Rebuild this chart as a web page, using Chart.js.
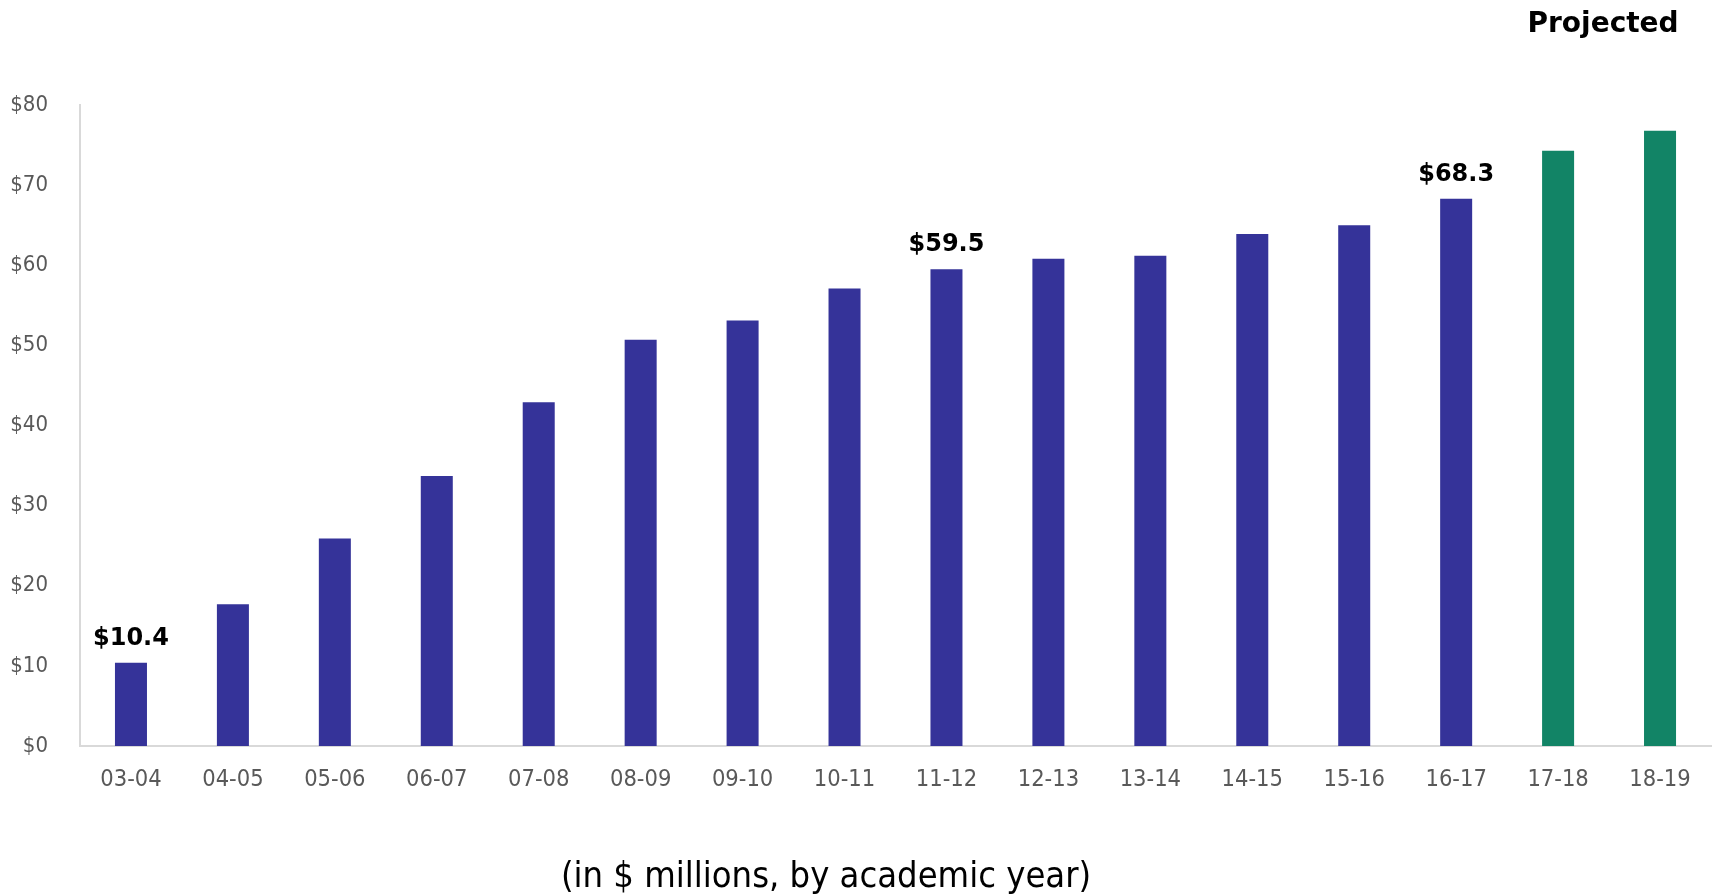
<!DOCTYPE html>
<html>
<head>
<meta charset="utf-8">
<script src="https://cdn.jsdelivr.net/npm/chart.js@4/dist/chart.umd.min.js"></script>
<style>
  html, body { margin: 0; padding: 0; background: #fff; }
  #wrap { width: 1714px; height: 895px; }
</style>
</head>
<body>
<div id="wrap"><canvas id="funding-chart" width="1714" height="895"></canvas></div>
<script>
// academic years and funding (in $ millions)
const years = ['03-04', '04-05', '05-06', '06-07', '07-08', '08-09', '09-10', '10-11',
               '11-12', '12-13', '13-14', '14-15', '15-16', '16-17', '17-18', '18-19'];
const amounts = [10.4, 17.7, 25.9, 33.7, 42.9, 50.7, 53.1, 57.1,
                 59.5, 60.8, 61.2, 63.9, 65.0, 68.3, 74.3, 76.8];
const projectedYears = ['17-18', '18-19'];
const labelledYears = ['03-04', '11-12', '16-17'];
const yTicks = [0, 10, 20, 30, 40, 50, 60, 70, 80];

const ACTUAL = '#353399';
const PROJECTED = '#128466';
const FONT = '"DejaVu Sans", Verdana, sans-serif';
const COND = '"DejaVu Sans Condensed", "DejaVu Sans", Verdana, sans-serif';

const barColors = years.map(y => projectedYears.includes(y) ? PROJECTED : ACTUAL);

// value labels above selected bars, plus the "Projected" and units captions
const annotations = {
  id: 'annotations',
  afterDatasetsDraw(chart) {
    const ctx = chart.ctx;
    const meta = chart.getDatasetMeta(0);
    const x = chart.scales.x;
    ctx.save();
    ctx.fillStyle = '#000';
    ctx.textAlign = 'center';
    ctx.textBaseline = 'alphabetic';

    ctx.font = 'bold 24px ' + FONT;
    labelledYears.forEach(y => {
      const i = years.indexOf(y);
      const bar = meta.data[i];
      ctx.fillText('$' + amounts[i].toFixed(1), bar.x, bar.y - 18);
    });

    const px = projectedYears.map(y => x.getPixelForValue(years.indexOf(y)));
    const mid = px.reduce((a, b) => a + b, 0) / px.length;
    ctx.font = 'bold 28px ' + FONT;
    ctx.fillText('Projected', mid - 6, 32);

    ctx.font = '36px ' + COND;
    ctx.fillText('(in $ millions, by academic year)', 826, 887);
    ctx.restore();
  }
};

new Chart(document.getElementById('funding-chart'), {
  type: 'bar',
  data: {
    labels: years,
    datasets: [{
      data: amounts,
      backgroundColor: barColors,
      borderWidth: 0,
      barPercentage: 0.314,
      categoryPercentage: 1.0
    }]
  },
  options: {
    responsive: false,
    animation: false,
    devicePixelRatio: 1,
    layout: { padding: { top: 105, right: 3, bottom: 0, left: 0 } },
    plugins: {
      legend: { display: false },
      tooltip: { enabled: false }
    },
    scales: {
      x: {
        grid: { display: false, drawTicks: false },
        border: { color: '#d9d9d9', width: 2 },
        ticks: {
          color: '#595959',
          font: { family: COND, size: 23.5 },
          padding: 20,
          maxRotation: 0,
          autoSkip: false
        },
        afterFit(scale) { scale.height = 149; }
      },
      y: {
        min: 0,
        max: 80,
        grid: { display: false, drawTicks: false },
        border: { color: '#d9d9d9', width: 2 },
        afterBuildTicks(scale) { scale.ticks = yTicks.map(v => ({ value: v })); },
        ticks: {
          color: '#595959',
          font: { family: COND, size: 22 },
          padding: 32,
          callback: v => '$' + v
        },
        afterFit(scale) { scale.width = 80; }
      }
    }
  },
  plugins: [annotations]
});
</script>
</body>
</html>
